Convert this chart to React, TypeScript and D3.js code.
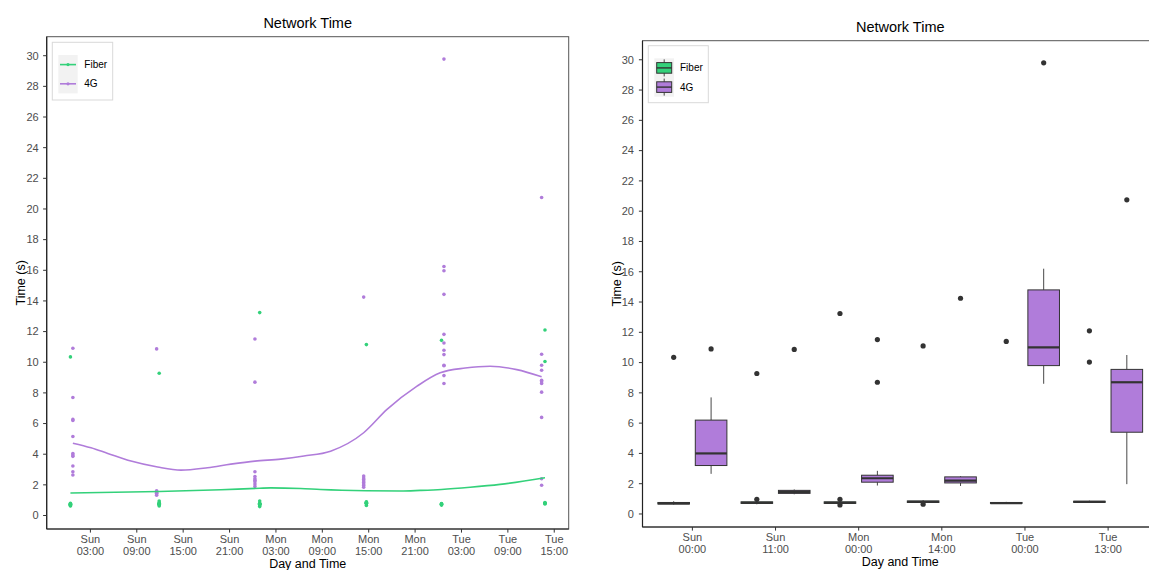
import React from "react";
import * as d3 from "d3";

const W = 1149;
const H = 570;

const FIBER_COLOR = "#33D17A";
const G4_COLOR = "#B07CDA";

const seriesNames = ["Fiber", "4G"];

// ---------- Left chart: raw measurements ----------
const fiberClusterTimes = [
  "2021-01-03T00:25",
  "2021-01-03T11:54",
  "2021-01-04T00:54",
  "2021-01-04T14:42",
  "2021-01-05T00:25",
  "2021-01-05T13:48",
];
const fiberClusterValues = [
  [0.62, 0.66, 0.68, 0.7, 0.7, 0.72, 0.74, 0.76, 0.8, 10.35],
  [0.62, 0.7, 0.72, 0.74, 0.75, 0.78, 0.8, 0.84, 0.95, 9.28],
  [0.58, 0.68, 0.7, 0.72, 0.74, 0.76, 0.78, 0.8, 0.95, 13.24],
  [0.65, 0.76, 0.78, 0.8, 0.82, 0.84, 0.86, 0.9, 11.15],
  [0.68, 0.7, 0.72, 0.74, 0.76, 0.78, 11.43],
  [0.75, 0.78, 0.8, 0.82, 0.85, 10.05, 12.1],
];

const g4ClusterTimes = [
  "2021-01-03T00:44",
  "2021-01-03T11:34",
  "2021-01-04T00:17",
  "2021-01-04T14:21",
  "2021-01-05T00:44",
  "2021-01-05T13:22",
];
const g4ClusterValues = [
  [10.91, 7.7, 6.27, 6.2, 5.16, 4.05, 3.94, 3.86, 3.23, 2.86, 2.64],
  [10.87, 1.62, 1.55, 1.5, 1.45, 1.4, 1.32],
  [11.52, 8.7, 2.86, 2.55, 2.4, 2.3, 2.2, 2.05, 1.9],
  [14.25, 2.57, 2.45, 2.35, 2.25, 2.15, 2.05, 1.95, 1.85],
  [29.78, 16.25, 15.97, 14.43, 11.82, 11.26, 10.78, 10.5, 9.8, 9.77, 9.13, 8.61],
  [20.75, 10.52, 9.8, 9.48, 8.83, 8.72, 8.61, 8.05, 6.4, 2.4, 1.97],
];

// smoothed trend lines
const fiberSmoothTimes = [
  "2021-01-03T00:25", "2021-01-03T11:54", "2021-01-03T19:52", "2021-01-04T00:54",
  "2021-01-04T02:19", "2021-01-04T06:11", "2021-01-04T08:46", "2021-01-04T14:42",
  "2021-01-04T19:08", "2021-01-04T21:40", "2021-01-05T00:25", "2021-01-05T04:07",
  "2021-01-05T07:59", "2021-01-05T13:48",
];
const fiberSmoothValues = [1.47, 1.57, 1.68, 1.78, 1.8, 1.76, 1.7, 1.62, 1.6, 1.64, 1.7, 1.84, 2.03, 2.47];

const g4SmoothTimes = [
  "2021-01-03T00:44", "2021-01-03T03:05", "2021-01-03T05:15", "2021-01-03T08:15",
  "2021-01-03T11:42", "2021-01-03T14:43", "2021-01-03T18:09", "2021-01-03T21:10",
  "2021-01-04T00:17", "2021-01-04T03:37", "2021-01-04T06:37", "2021-01-04T10:04",
  "2021-01-04T14:21", "2021-01-04T17:22", "2021-01-04T21:15", "2021-01-05T00:15",
  "2021-01-05T03:29", "2021-01-05T06:42", "2021-01-05T10:09", "2021-01-05T13:22",
];
const g4SmoothValues = [4.72, 4.42, 4.05, 3.55, 3.16, 2.96, 3.12, 3.35, 3.55, 3.68, 3.88, 4.2, 5.4, 6.92, 8.44, 9.31, 9.62, 9.74, 9.52, 9.05];

const leftTickTimes = [
  "2021-01-03T03:00", "2021-01-03T09:00", "2021-01-03T15:00", "2021-01-03T21:00",
  "2021-01-04T03:00", "2021-01-04T09:00", "2021-01-04T15:00", "2021-01-04T21:00",
  "2021-01-05T03:00", "2021-01-05T09:00", "2021-01-05T15:00",
];

const yTicks = [0, 2, 4, 6, 8, 10, 12, 14, 16, 18, 20, 22, 24, 26, 28, 30];

// ---------- Right chart: box statistics per time bin ----------
const boxCategories = ["Sun 00:00", "Sun 11:00", "Mon 00:00", "Mon 14:00", "Tue 00:00", "Tue 13:00"];

const fiberLow = [0.62, 0.64, 0.66, 0.72, 0.68, 0.75];
const fiberQ1 = [0.66, 0.7, 0.7, 0.76, 0.7, 0.77];
const fiberMedian = [0.7, 0.74, 0.74, 0.8, 0.72, 0.8];
const fiberQ3 = [0.76, 0.8, 0.8, 0.86, 0.76, 0.84];
const fiberHigh = [0.84, 0.86, 0.84, 0.92, 0.8, 0.88];
const fiberOutliers = [[10.35], [9.28, 0.97], [13.24, 0.97, 0.6], [11.1, 0.65], [11.4], [12.1, 10.03]];

const g4Low = [2.65, 1.3, 1.88, 1.85, 8.6, 1.97];
const g4Q1 = [3.2, 1.36, 2.1, 2.05, 9.8, 5.4];
const g4Median = [4.0, 1.46, 2.36, 2.2, 11.0, 8.7];
const g4Q3 = [6.2, 1.56, 2.56, 2.45, 14.8, 9.55];
const g4High = [7.7, 1.62, 2.85, 2.5, 16.2, 10.5];
const g4Outliers = [[10.9], [10.87], [11.52, 8.7], [14.25], [29.8], [20.75]];

const parse = d3.utcParse("%Y-%m-%dT%H:%M");
const fmtDay = d3.utcFormat("%a");
const fmtHour = d3.utcFormat("%H:%M");

const FONT = "'Liberation Sans', Arial, Helvetica, sans-serif";
const TICK_COLOR = "#4D4D4D";

function expand(min: number, max: number, f = 0.05): [number, number] {
  const s = max - min;
  return [min - s * f, max + s * f];
}

function LeftChart() {
  const L = 46.7, R = 568.7, T = 36.7, B = 529;
  const fiberPts = fiberClusterTimes.flatMap((t, i) =>
    fiberClusterValues[i].map((v) => ({ t: parse(t) as Date, v }))
  );
  const g4Pts = g4ClusterTimes.flatMap((t, i) =>
    g4ClusterValues[i].map((v) => ({ t: parse(t) as Date, v }))
  );
  const all = [...fiberPts, ...g4Pts];
  const te = d3.extent(all, (d) => +d.t) as [number, number];
  const [t0, t1] = expand(te[0], te[1]);
  const x = d3.scaleUtc().domain([new Date(t0), new Date(t1)]).range([L, R]);
  const ve = d3.extent(all, (d) => d.v) as [number, number];
  const y = d3.scaleLinear().domain(expand(ve[0], ve[1])).range([B, T]);

  const line = d3
    .line<{ t: Date; v: number }>()
    .x((d) => x(d.t))
    .y((d) => y(d.v))
    .curve(d3.curveMonotoneX);
  const fiberSmooth = fiberSmoothTimes.map((t, i) => ({ t: parse(t) as Date, v: fiberSmoothValues[i] }));
  const g4Smooth = g4SmoothTimes.map((t, i) => ({ t: parse(t) as Date, v: g4SmoothValues[i] }));
  const ticks = leftTickTimes.map((t) => parse(t) as Date);
  const cx = (L + R) / 2;
  const cy = (T + B) / 2;

  return (
    <g>
      <text x={cx} y={T - 9} textAnchor="middle" fontSize={14.5} fill="#000">Network Time</text>
      <rect x={L} y={T} width={R - L} height={B - T} fill="#fff" stroke="#555" strokeWidth={1} />
      {fiberPts.map((d, i) => (
        <circle key={"f" + i} cx={x(d.t)} cy={y(d.v)} r={1.8} fill={FIBER_COLOR} />
      ))}
      {g4Pts.map((d, i) => (
        <circle key={"g" + i} cx={x(d.t)} cy={y(d.v)} r={1.8} fill={G4_COLOR} />
      ))}
      <path d={line(fiberSmooth) || ""} fill="none" stroke={FIBER_COLOR} strokeWidth={1.6} />
      <path d={line(g4Smooth) || ""} fill="none" stroke={G4_COLOR} strokeWidth={1.6} />
      <line x1={L} x2={L} y1={T} y2={B} stroke="#222" strokeWidth={1.2} />
      <line x1={L} x2={R} y1={B} y2={B} stroke="#222" strokeWidth={1.2} />
      {yTicks.map((v) => (
        <g key={v}>
          <line x1={L - 3.6} x2={L} y1={y(v)} y2={y(v)} stroke="#333" strokeWidth={1} />
          <text x={L - 8} y={y(v)} dy="0.35em" textAnchor="end" fontSize={11} fill={TICK_COLOR}>{v}</text>
        </g>
      ))}
      {ticks.map((t, i) => (
        <g key={i}>
          <line x1={x(t)} x2={x(t)} y1={B} y2={B + 3.6} stroke="#333" strokeWidth={1} />
          <text x={x(t)} y={B + 14} textAnchor="middle" fontSize={11} fill={TICK_COLOR}>{fmtDay(t)}</text>
          <text x={x(t)} y={B + 25.5} textAnchor="middle" fontSize={11} fill={TICK_COLOR}>{fmtHour(t)}</text>
        </g>
      ))}
      <text x={cx} y={B + 38.5} textAnchor="middle" fontSize={12.5} fill="#000">Day and Time</text>
      <text transform={`translate(${21},${cy}) rotate(-90)`} textAnchor="middle" dy="0.35em" fontSize={12.5} fill="#000">Time (s)</text>
      {/* legend */}
      <rect x={52.3} y={42.3} width={60.4} height={57.7} fill="#fff" stroke="#D9D9D9" strokeWidth={1} />
      <rect x={58.3} y={55} width={19.4} height={38.4} fill="#F2F2F2" />
      {seriesNames.map((name, i) => {
        const ky = 55 + 9.6 + 19.2 * i;
        const col = i === 0 ? FIBER_COLOR : G4_COLOR;
        return (
          <g key={name}>
            <line x1={60} x2={76} y1={ky} y2={ky} stroke={col} strokeWidth={1.6} />
            <circle cx={68} cy={ky} r={1.6} fill={col} />
            <text x={84.3} y={ky} dy="0.35em" fontSize={10} fill="#000">{name}</text>
          </g>
        );
      })}
    </g>
  );
}

function RightChart() {
  const L = 642.5, R = 1158, T = 40.7, B = 527;
  const x = d3.scalePoint<string>().domain(boxCategories).range([L, R]).padding(0.6);
  const step = x.step();
  const vals = [
    ...fiberLow, ...fiberHigh, ...fiberOutliers.flat(),
    ...g4Low, ...g4High, ...g4Outliers.flat(),
  ];
  const y = d3.scaleLinear().domain(expand(d3.min(vals) as number, d3.max(vals) as number)).range([B, T]);
  const cx = (L + R) / 2;
  const cy = (T + B) / 2;
  const bw = step * 0.38;

  const series = [
    { name: "Fiber", color: FIBER_COLOR, off: -0.225, low: fiberLow, q1: fiberQ1, med: fiberMedian, q3: fiberQ3, high: fiberHigh, out: fiberOutliers },
    { name: "4G", color: G4_COLOR, off: 0.225, low: g4Low, q1: g4Q1, med: g4Median, q3: g4Q3, high: g4High, out: g4Outliers },
  ];

  return (
    <g>
      <text x={cx} y={T - 9} textAnchor="middle" fontSize={14.5} fill="#000">Network Time</text>
      <rect x={L} y={T} width={R - L} height={B - T} fill="#fff" stroke="#555" strokeWidth={1} />
      {series.map((s) =>
        boxCategories.map((c, i) => {
          const xc = (x(c) as number) + s.off * step;
          return (
            <g key={s.name + c}>
              <line x1={xc} x2={xc} y1={y(s.high[i])} y2={y(s.q3[i])} stroke="#333" strokeWidth={0.9} />
              <line x1={xc} x2={xc} y1={y(s.q1[i])} y2={y(s.low[i])} stroke="#333" strokeWidth={0.9} />
              <rect
                x={xc - bw / 2}
                y={y(s.q3[i])}
                width={bw}
                height={Math.max(0.1, y(s.q1[i]) - y(s.q3[i]))}
                fill={s.color}
                stroke="#333"
                strokeWidth={1}
              />
              <line x1={xc - bw / 2} x2={xc + bw / 2} y1={y(s.med[i])} y2={y(s.med[i])} stroke="#333" strokeWidth={2.2} />
              {s.out[i].map((v, j) => (
                <circle key={j} cx={xc} cy={y(v)} r={2.6} fill="#333" />
              ))}
            </g>
          );
        })
      )}
      <line x1={L} x2={L} y1={T} y2={B} stroke="#222" strokeWidth={1.2} />
      <line x1={L} x2={R} y1={B} y2={B} stroke="#222" strokeWidth={1.2} />
      {yTicks.map((v) => (
        <g key={v}>
          <line x1={L - 3.6} x2={L} y1={y(v)} y2={y(v)} stroke="#333" strokeWidth={1} />
          <text x={L - 8.6} y={y(v)} dy="0.35em" textAnchor="end" fontSize={11} fill={TICK_COLOR}>{v}</text>
        </g>
      ))}
      {boxCategories.map((c) => {
        const [day, hour] = c.split(" ");
        const xc = x(c) as number;
        return (
          <g key={c}>
            <line x1={xc} x2={xc} y1={B} y2={B + 3.6} stroke="#333" strokeWidth={1} />
            <text x={xc} y={B + 13.7} textAnchor="middle" fontSize={11} fill={TICK_COLOR}>{day}</text>
            <text x={xc} y={B + 25.5} textAnchor="middle" fontSize={11} fill={TICK_COLOR}>{hour}</text>
          </g>
        );
      })}
      <text x={cx} y={B + 39} textAnchor="middle" fontSize={12.5} fill="#000">Day and Time</text>
      <text transform={`translate(${616.7},${cy}) rotate(-90)`} textAnchor="middle" dy="0.35em" fontSize={12.5} fill="#000">Time (s)</text>
      {/* legend */}
      <rect x={648.3} y={45.7} width={60} height={57} fill="#fff" stroke="#D9D9D9" strokeWidth={1} />
      <rect x={654.3} y={58.3} width={19.7} height={38.4} fill="#F2F2F2" />
      {series.map((s, i) => {
        const ky = 58.3 + 9.6 + 19.2 * i;
        const kx = 664.2;
        return (
          <g key={s.name}>
            <line x1={kx} x2={kx} y1={ky - 8.5} y2={ky + 8.5} stroke="#333" strokeWidth={0.9} />
            <rect x={kx - 7.5} y={ky - 5.3} width={15} height={10.6} fill={s.color} stroke="#333" strokeWidth={1} />
            <line x1={kx - 7.5} x2={kx + 7.5} y1={ky} y2={ky} stroke="#333" strokeWidth={1.4} />
            <text x={680} y={ky} dy="0.35em" fontSize={10} fill="#000">{s.name}</text>
          </g>
        );
      })}
    </g>
  );
}

export default function App() {
  return (
    <svg
      width={W}
      height={H}
      viewBox={`0 0 ${W} ${H}`}
      style={{ position: "absolute", left: 0, top: 0, background: "#fff", fontFamily: FONT }}
    >
      <rect x={0} y={0} width={W} height={H} fill="#fff" />
      <LeftChart />
      <RightChart />
    </svg>
  );
}
